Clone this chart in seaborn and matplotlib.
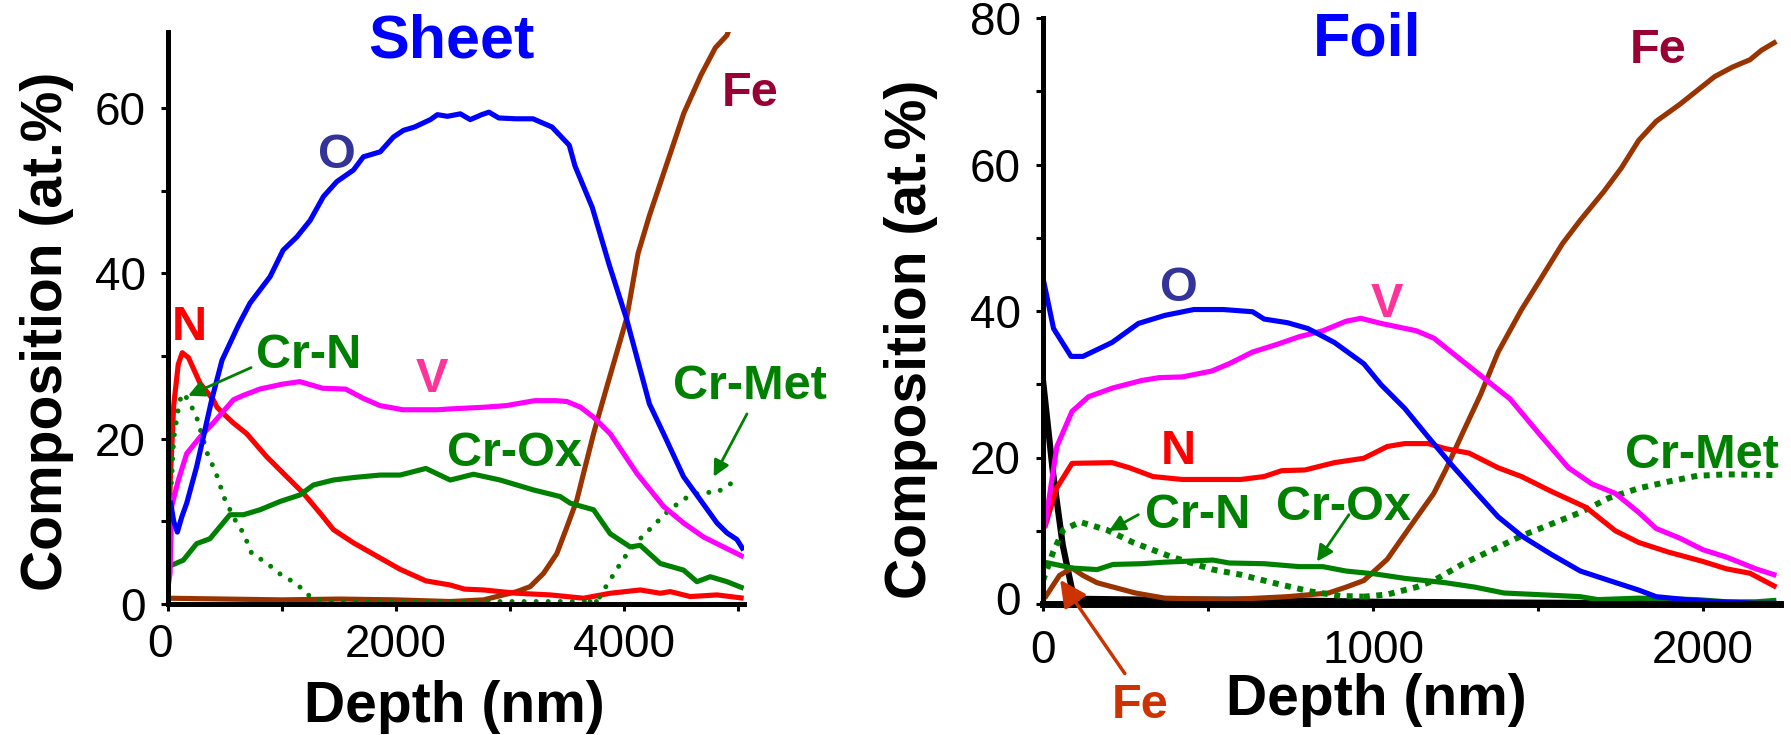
import matplotlib
matplotlib.use("Agg")
import matplotlib.pyplot as plt
from matplotlib.ticker import MultipleLocator
from matplotlib.transforms import ScaledTranslation
import seaborn as sns

# ---------------- data: Sheet ----------------
sheet_O_x = [20, 50, 82, 120, 164, 251, 310, 383, 474, 620, 719, 895, 1009, 1129, 1246, 1363, 1480, 1626, 1713,
             1860, 1977, 2064, 2161, 2300, 2362, 2450, 2563, 2650, 2750, 2814, 2900, 3050, 3200, 3367, 3518, 3568,
             3719, 3869, 4020, 4221, 4345, 4520, 4667, 4813, 4901, 4988, 5047]
sheet_O_y = [12.5, 10.0, 8.7, 10.5, 12.2, 16.6, 20.2, 24.7, 29.5, 33.8, 36.4, 39.6, 42.8, 44.4, 46.4, 49.3, 51.1,
             52.5, 54.1, 54.7, 56.5, 57.3, 57.7, 58.6, 59.2, 59.0, 59.3, 58.6, 59.2, 59.5, 58.8, 58.7, 58.7, 57.7,
             55.5, 53.0, 48.0, 41.0, 34.5, 24.2, 20.6, 15.4, 12.6, 9.8, 8.6, 7.8, 6.5]

sheet_V_x = [0, 18, 32, 91, 164, 281, 397, 573, 653, 804, 1005, 1156, 1357, 1558, 1709, 1859, 2060, 2362, 2474,
             2766, 2965, 3216, 3400, 3497, 3618, 3731, 3877, 4111, 4345, 4520, 4696, 4871, 5047]
sheet_V_y = [2.0, 3.7, 11.8, 15.0, 18.2, 20.2, 21.9, 24.7, 25.2, 26.0, 26.6, 26.9, 26.1, 26.0, 24.9, 24.0, 23.5,
             23.5, 23.6, 23.8, 24.0, 24.6, 24.6, 24.5, 23.8, 22.6, 20.6, 15.8, 11.8, 9.8, 8.1, 6.9, 5.7]

sheet_N_x = [0, 20, 50, 90, 125, 180, 281, 397, 430, 503, 573, 690, 866, 1041, 1187, 1333, 1450, 1626, 1830, 2035,
             2261, 2474, 2600, 2766, 3058, 3351, 3643, 3877, 4140, 4316, 4403, 4579, 4813, 5047]
sheet_N_y = [4.0, 15.0, 24.0, 29.0, 30.4, 29.8, 26.7, 24.7, 23.8, 22.8, 21.9, 20.6, 17.8, 15.4, 13.4, 11.0, 9.0,
             7.4, 5.8, 4.2, 2.8, 2.3, 1.8, 1.7, 1.3, 1.1, 0.7, 1.3, 1.7, 1.3, 1.5, 0.9, 1.1, 0.7]

sheet_CrOx_x = [0, 134, 251, 368, 543, 661, 807, 982, 1158, 1275, 1450, 1626, 1860, 2035, 2261, 2474, 2563, 2678,
                2912, 3204, 3438, 3526, 3731, 3877, 4053, 4140, 4316, 4520, 4637, 4754, 4901, 5047]
sheet_CrOx_y = [4.5, 5.3, 7.3, 7.9, 10.8, 10.8, 11.4, 12.4, 13.2, 14.4, 15.0, 15.3, 15.6, 15.6, 16.4, 15.0, 15.3,
                15.7, 15.0, 13.8, 13.0, 12.2, 11.4, 8.5, 6.9, 7.1, 4.9, 4.1, 2.7, 3.3, 2.7, 1.9]

sheet_Fe_x = [0, 500, 1000, 1500, 2000, 2474, 2766, 3058, 3175, 3292, 3409, 3497, 3585, 3643, 3731, 3790, 3848,
              4020, 4121, 4221, 4372, 4523, 4673, 4799, 4900, 4960]
sheet_Fe_y = [0.7, 0.6, 0.5, 0.6, 0.5, 0.3, 0.5, 1.5, 2.1, 3.7, 6.1, 9.3, 12.6, 15.8, 20.6, 23.5, 26.3, 34.5,
              42.4, 47.0, 53.2, 59.4, 64.0, 67.3, 68.8, 71.0]

sheet_CrN_x = [0, 20, 50, 100, 130, 178, 251, 354, 412, 500, 602, 661, 734, 851, 924, 1012, 1100, 1187, 1260,
               1333, 1500, 2000, 2500, 3000, 3500, 3760]
sheet_CrN_y = [3.0, 12.0, 20.0, 24.5, 25.5, 24.7, 22.6, 17.8, 16.2, 12.6, 9.8, 8.6, 6.1, 5.1, 4.3, 3.3, 2.7, 1.7,
               0.7, 0.4, 0.3, 0.3, 0.3, 0.3, 0.3, 0.3]

sheet_CrMet_x = [3700, 3760, 3848, 3994, 4111, 4228, 4374, 4520, 4667, 4813, 4901, 5003]
sheet_CrMet_y = [0.3, 0.3, 2.3, 5.5, 7.5, 9.1, 11.1, 12.7, 13.5, 13.5, 14.3, 15.1]

# ---------------- data: Foil ----------------
foil_O_x = [0, 32, 85, 121, 209, 289, 369, 457, 546, 635, 670, 741, 803, 883, 972, 1025, 1096, 1167, 1238, 1309,
            1379, 1450, 1539, 1628, 1716, 1805, 1858, 1982, 2160, 2222]
foil_O_y = [44.5, 37.6, 33.8, 33.8, 35.7, 38.3, 39.4, 40.2, 40.2, 39.9, 38.9, 38.4, 37.6, 35.7, 32.8, 29.9, 26.7,
            22.8, 19.0, 15.4, 11.9, 9.3, 6.8, 4.5, 3.2, 1.9, 1.0, 0.45, 0.1, 0.1]

foil_V_x = [5, 42, 88, 138, 212, 298, 351, 422, 511, 564, 635, 706, 777, 848, 918, 963, 1025, 1131, 1184, 1273,
            1362, 1415, 1504, 1592, 1663, 1734, 1805, 1858, 1929, 2000, 2071, 2160, 2222]
foil_V_y = [10.4, 21.5, 26.3, 28.3, 29.5, 30.5, 30.9, 31.0, 31.8, 32.8, 34.4, 35.4, 36.5, 37.3, 38.6, 39.0, 38.3,
            37.3, 36.3, 33.1, 29.9, 28.0, 23.2, 18.6, 16.4, 15.1, 12.5, 10.3, 9.0, 7.4, 6.4, 4.8, 3.9]

foil_N_x = [5, 41, 88, 209, 262, 333, 422, 511, 599, 670, 723, 794, 883, 972, 1043, 1096, 1167, 1220, 1291, 1379,
            1450, 1539, 1645, 1734, 1805, 1894, 2000, 2071, 2142, 2222]
foil_N_y = [10.4, 15.8, 19.2, 19.3, 18.6, 17.4, 17.0, 17.0, 17.0, 17.4, 18.2, 18.3, 19.3, 19.9, 21.5, 21.9, 21.9,
            21.2, 20.6, 18.6, 17.4, 15.4, 13.2, 10.0, 8.4, 7.1, 5.8, 4.8, 4.2, 2.3]

foil_Fe_x = [5, 50, 88, 121, 164, 280, 369, 564, 741, 865, 918, 972, 1043, 1113, 1184, 1220, 1273, 1326, 1379,
             1450, 1504, 1574, 1628, 1699, 1752, 1805, 1858, 1929, 1982, 2035, 2089, 2142, 2177, 2222]
foil_Fe_y = [0.8, 3.9, 4.9, 3.9, 2.9, 1.5, 0.8, 0.6, 1.0, 1.5, 2.3, 3.2, 6.1, 10.6, 15.1, 18.3, 23.5, 28.6, 34.4,
             40.2, 44.1, 49.2, 52.4, 56.3, 59.5, 63.3, 65.9, 68.2, 70.1, 72.0, 73.3, 74.3, 75.6, 76.8]

foil_CrOx_x = [5, 91, 164, 212, 298, 364, 515, 564, 670, 777, 848, 918, 1007, 1096, 1220, 1309, 1397, 1539, 1628,
               1681, 1805, 1982, 2071, 2160, 2222]
foil_CrOx_y = [5.7, 4.9, 4.7, 5.4, 5.5, 5.7, 6.0, 5.6, 5.5, 5.1, 5.1, 4.5, 4.1, 3.5, 2.9, 2.3, 1.5, 1.2, 1.0, 0.6,
               0.8, 0.6, 0.3, 0.3, 0.5]

foil_CrN_x = [0, 30, 61, 112, 194, 273, 385, 515, 599, 706, 812, 901, 972]
foil_CrN_y = [3.2, 7.0, 10.1, 11.2, 10.1, 8.4, 6.5, 4.7, 4.0, 2.8, 1.7, 1.1, 1.0]

foil_CrMet_x = [972, 1043, 1131, 1184, 1273, 1362, 1450, 1539, 1628, 1716, 1805, 1894, 1982, 2071, 2213]
foil_CrMet_y = [1.0, 1.3, 2.3, 3.2, 5.5, 7.4, 9.3, 10.9, 12.5, 14.5, 15.8, 16.7, 17.5, 17.7, 17.6]

foil_C_x = [0, 30, 60, 90, 120, 300, 600, 1000, 1400, 1800, 2222]
foil_C_y = [30.5, 18.0, 8.0, 1.5, 0.7, 0.6, 0.6, 0.3, 0.2, 0.1, 0.0]

# ---------------- style ----------------
sns.set_style("ticks")
plt.rcParams["font.family"] = ["Liberation Sans", "DejaVu Sans"]
for k in ("text.color", "axes.labelcolor", "xtick.color", "ytick.color",
          "xtick.labelcolor", "ytick.labelcolor"):
    plt.rcParams[k] = "black"

BLUE, MAG, RED, GREEN, BROWN = "#0000FF", "#FF00FF", "#FF0000", "#008000", "#993300"
LW = 3.7
DOT_SHEET = (0, (0.01, 2.4))
DOT_FOIL = (0, (1.0, 1.1))

fig = plt.figure(figsize=(17.91, 7.35), dpi=100)
ax1 = fig.add_axes([168 / 1791, 131 / 735, 576 / 1791, 572 / 735])
ax2 = fig.add_axes([1043 / 1791, 131 / 735, 737 / 1791, 586 / 735])


def line(ax, x, y, color, ls="-", lw=LW, cap="butt"):
    sns.lineplot(x=x, y=y, ax=ax, color=color, linewidth=lw, linestyle=ls,
                 dash_capstyle=cap, solid_capstyle="butt", solid_joinstyle="round",
                 legend=False, estimator=None, sort=False)
    ln = ax.lines[-1]
    ln.set_linewidth(lw)
    ln.set_linestyle(ls)
    ln.set_dash_capstyle(cap)


# Sheet panel
line(ax1, sheet_Fe_x, sheet_Fe_y, BROWN)
line(ax1, sheet_N_x, sheet_N_y, RED)
line(ax1, sheet_CrOx_x, sheet_CrOx_y, GREEN)
line(ax1, sheet_CrN_x, sheet_CrN_y, GREEN, ls=DOT_SHEET, lw=3.6, cap="round")
line(ax1, sheet_CrMet_x, sheet_CrMet_y, GREEN, ls=DOT_SHEET, lw=3.6, cap="round")
line(ax1, sheet_V_x, sheet_V_y, MAG)
line(ax1, sheet_O_x, sheet_O_y, BLUE)

# Foil panel
line(ax2, foil_C_x, foil_C_y, "black", lw=4.5)
line(ax2, foil_Fe_x, foil_Fe_y, BROWN)
line(ax2, foil_CrOx_x, foil_CrOx_y, GREEN)
line(ax2, foil_CrN_x, foil_CrN_y, GREEN, ls=DOT_FOIL, lw=4.3)
line(ax2, foil_CrMet_x, foil_CrMet_y, GREEN, ls=DOT_FOIL, lw=4.3)
line(ax2, foil_N_x, foil_N_y, RED)
line(ax2, foil_V_x, foil_V_y, MAG)
line(ax2, foil_O_x, foil_O_y, BLUE)

ax1.set_xlim(0, 5050)
ax1.set_ylim(0, 69.2)
ax2.set_xlim(0, 2233)
ax2.set_ylim(0, 80)

ax1.xaxis.set_major_locator(MultipleLocator(2000))
ax1.xaxis.set_minor_locator(MultipleLocator(1000))
ax2.xaxis.set_major_locator(MultipleLocator(1000))
ax2.xaxis.set_minor_locator(MultipleLocator(500))
for ax in (ax1, ax2):
    ax.yaxis.set_major_locator(MultipleLocator(20))
    ax.yaxis.set_minor_locator(MultipleLocator(10))
    for s in ("top", "right"):
        ax.spines[s].set_visible(False)
    for s in ("left", "bottom"):
        ax.spines[s].set_linewidth(3.6)
        ax.spines[s].set_color("black")
    ax.tick_params(which="both", direction="out", length=5, width=2.2, color="black")
    ax.tick_params(axis="y", which="major", labelsize=33, pad=11, labelcolor="black")
    ax.set_facecolor("white")
    ax.set_xlabel("Depth (nm)", fontsize=41, fontweight="bold", va="top", color="black")
    ax.set_ylabel("Composition (at.%)", fontsize=41, fontweight="bold", color="black")
ax1.tick_params(axis="x", which="major", labelsize=33, pad=9, labelcolor="black")
ax2.tick_params(axis="x", which="major", labelsize=33, pad=13, labelcolor="black")

ax2.spines["bottom"].set_linewidth(5)
ax1.xaxis.set_label_coords(0.497, -0.133)
ax2.xaxis.set_label_coords(0.452, -0.118)
ax1.yaxis.set_label_coords(-0.163, 0.477)
ax2.yaxis.set_label_coords(-0.142, 0.452)

fig.text(451 / 1791, 1 - 57 / 735, "Sheet", ha="center", va="baseline",
         fontsize=44, fontweight="bold", color=BLUE)
fig.text(1367 / 1791, 1 - 56 / 735, "Foil", ha="center", va="baseline",
         fontsize=44, fontweight="bold", color=BLUE)

LSIZE = 35


def label(ax, x, y, s, color, size=LSIZE):
    ax.annotate(s, xy=(x, y), xytext=(0, -size * 0.716 / 2), textcoords="offset points",
                ha="center", va="baseline", fontsize=size, fontweight="bold",
                color=color, annotation_clip=False)


def arrow(ax, tail, head, color, lw=2.0, ms=24):
    ax.annotate("", xy=head, xytext=tail, annotation_clip=False,
                arrowprops=dict(arrowstyle="-|>", color=color, lw=lw,
                                mutation_scale=ms, shrinkA=0, shrinkB=0))


# Sheet labels
label(ax1, 1482, 54.9, "O", "#333399")
label(ax1, 190, 34.0, "N", RED)
label(ax1, 1231, 30.6, "Cr-N", GREEN)
label(ax1, 2312, 27.7, "V", "#FF3399")
label(ax1, 3040, 18.8, "Cr-Ox", GREEN)
label(ax1, 5100, 26.9, "Cr-Met", GREEN)
label(ax1, 5100, 62.3, "Fe", "#990033")
arrow(ax1, (729, 28.6), (176, 25.2), GREEN)
arrow(ax1, (5076, 23.0), (4784, 15.4), GREEN)

# Foil labels
label(ax2, 413, 43.7, "O", "#333399")
label(ax2, 1043, 41.5, "V", "#FF3399")
label(ax2, 410, 21.5, "N", RED)
label(ax2, 467, 12.7, "Cr-N", GREEN)
label(ax2, 910, 13.8, "Cr-Ox", GREEN)
label(ax2, 1997, 21.0, "Cr-Met", GREEN)
label(ax2, 1863, 76.2, "Fe", "#990033")
label(ax2, 294, -13.2, "Fe", "#CC3300")
arrow(ax2, (289, 12.2), (200, 10.0), GREEN)
arrow(ax2, (927, 12.2), (830, 5.8), GREEN)
arrow(ax2, (248, -9.5), (52, 3.3), "#CC3300", lw=2.5, ms=40)


# small offsets of the "0" tick labels, as in the original
def shift_zero(axis, dx, dy):
    for tk in axis.get_major_ticks():
        if abs(tk.get_loc()) < 1e-9:
            lab = tk.label1
            lab.set_transform(lab.get_transform() + ScaledTranslation(dx, dy, fig.dpi_scale_trans))


fig.canvas.draw()
shift_zero(ax1.xaxis, -0.08, 0)
shift_zero(ax2.yaxis, 0, 0.06)

fig.savefig("out.png", dpi=100, facecolor="white")
